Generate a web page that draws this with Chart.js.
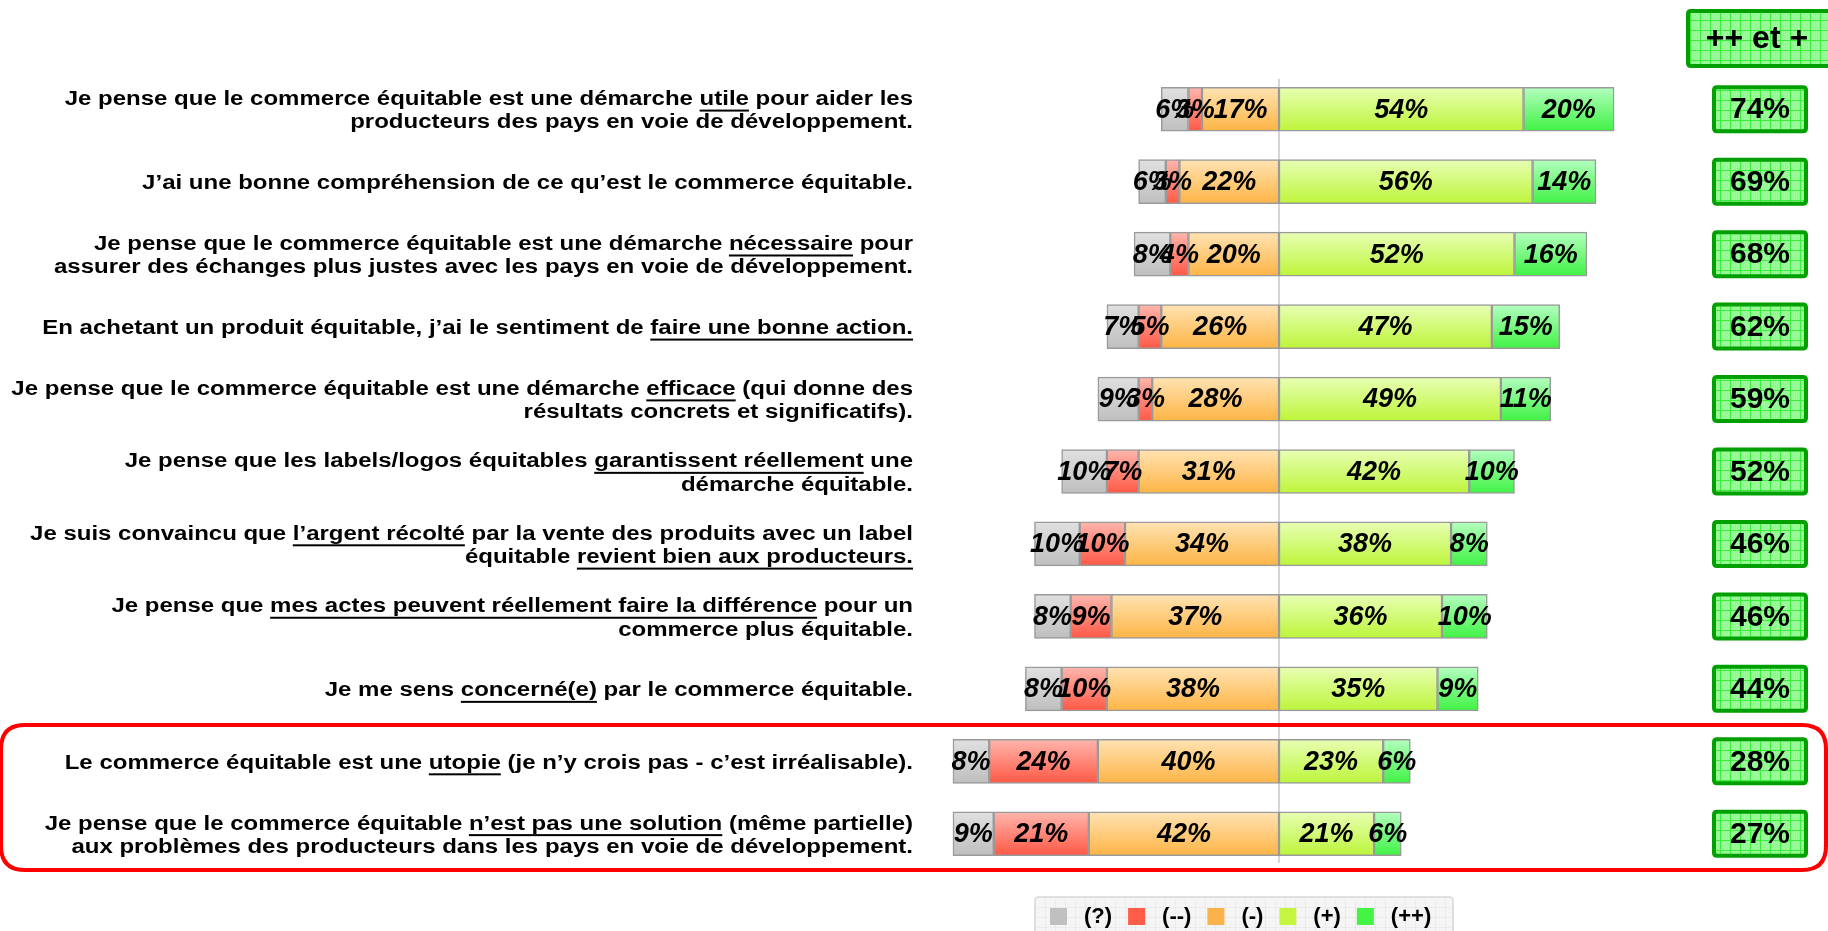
<!DOCTYPE html>
<html>
<head>
<meta charset="utf-8">
<script src="https://cdn.jsdelivr.net/npm/chart.js@4.4.0/dist/chart.umd.min.js"></script>
<style>
html,body{margin:0;padding:0;background:#fff;}
#wrap{width:1828px;height:931px;position:relative;overflow:hidden;}
canvas{display:block;}
</style>
</head>
<body>
<div id="wrap"><canvas id="c" width="1828" height="931"></canvas></div>
<script>
// ---------- DATA ----------
const categories = [
  ["Je pense que le commerce équitable est une démarche utile pour aider les", "producteurs des pays en voie de développement."],
  ["J’ai une bonne compréhension de ce qu’est le commerce équitable."],
  ["Je pense que le commerce équitable est une démarche nécessaire pour", "assurer des échanges plus justes avec les pays en voie de développement."],
  ["En achetant un produit équitable, j’ai le sentiment de faire une bonne action."],
  ["Je pense que le commerce équitable est une démarche efficace (qui donne des", "résultats concrets et significatifs)."],
  ["Je pense que les labels/logos équitables garantissent réellement une", "démarche équitable."],
  ["Je suis convaincu que l’argent récolté par la vente des produits avec un label", "équitable revient bien aux producteurs."],
  ["Je pense que mes actes peuvent réellement faire la différence pour un", "commerce plus équitable."],
  ["Je me sens concerné(e) par le commerce équitable."],
  ["Le commerce équitable est une utopie (je n’y crois pas - c’est irréalisable)."],
  ["Je pense que le commerce équitable n’est pas une solution (même partielle)", "aux problèmes des producteurs dans les pays en voie de développement."]
];
const underlinedPhrases = [
  ["utile"],
  [],
  ["nécessaire"],
  ["faire une bonne action."],
  ["efficace"],
  ["garantissent réellement"],
  ["l’argent récolté", "revient bien aux producteurs."],
  ["mes actes peuvent réellement faire la différence"],
  ["concerné(e)"],
  ["utopie"],
  ["n’est pas une solution"]
];
const seriesNames = ["(?)", "(--)", "(-)", "(+)", "(++)"];
const unknownVals = [6, 6, 8, 7, 9, 10, 10, 8, 8, 8, 9];
const veryNegVals = [3, 3, 4, 5, 3, 7, 10, 9, 10, 24, 21];
const negVals     = [17, 22, 20, 26, 28, 31, 34, 37, 38, 40, 42];
const posVals     = [54, 56, 52, 47, 49, 42, 38, 36, 35, 23, 21];
const veryPosVals = [20, 14, 16, 15, 11, 10, 8, 10, 9, 6, 6];
const plusTotals  = [74, 69, 68, 62, 59, 52, 46, 46, 44, 28, 27];
const totalsHeader = "++ et +";
const highlightedRows = [9, 10];

// ---------- STYLE ----------
const FONT = '"Liberation Sans", Arial, Helvetica, sans-serif';
const LABEL_STRETCH = 1.2;   // category labels are set in a wide face
const BAR_THICK = 44;
const colors = {
  "(?)":  {top: "#e0e0e0", bottom: "#bfbfbf", solid: "#c0c0c0"},
  "(--)": {top: "#ffb6ad", bottom: "#ff5845", solid: "#ff5c4a"},
  "(-)":  {top: "#ffe3b3", bottom: "#fdb445", solid: "#fbb24a"},
  "(+)":  {top: "#e8ffb4", bottom: "#bcf53a", solid: "#c6f540"},
  "(++)": {top: "#b4ffbf", bottom: "#40f244", solid: "#44f444"}
};
function grad(name) {
  const c = colors[name];
  return (ctx) => {
    const chart = ctx.chart;
    const ys = chart.scales && chart.scales.y;
    if (!ys || ctx.type !== 'data') return c.solid;
    const yc = ys.getPixelForValue(ctx.dataIndex);
    if (!isFinite(yc)) return c.solid;
    const g = chart.ctx.createLinearGradient(0, yc - BAR_THICK / 2, 0, yc + BAR_THICK / 2);
    g.addColorStop(0, c.top);
    g.addColorStop(1, c.bottom);
    return g;
  };
}
function mkDataset(name, vals, sign) {
  return {
    label: name,
    data: vals.map(v => sign * v),
    backgroundColor: grad(name),
    borderColor: "#9a9a9a",
    borderWidth: 1.5,
    borderSkipped: false,
    barThickness: BAR_THICK
  };
}

function greenPattern(ctx) {
  const p = document.createElement('canvas');
  p.width = 10; p.height = 10;
  const g = p.getContext('2d');
  g.fillStyle = '#8ffb8f';
  g.fillRect(0, 0, 10, 10);
  g.fillStyle = '#a6fda6';
  for (let i = 0; i < 10; i += 2) for (let j = (i / 2) % 2; j < 10; j += 2) g.fillRect(i, j, 1, 1);
  g.fillStyle = '#3cee3c';
  g.fillRect(0, 0, 10, 1);
  g.fillRect(0, 0, 1, 10);
  return ctx.createPattern(p, 'repeat');
}
function rrect(ctx, x, y, w, h, r) {
  ctx.beginPath();
  ctx.moveTo(x + r, y);
  ctx.lineTo(x + w - r, y); ctx.quadraticCurveTo(x + w, y, x + w, y + r);
  ctx.lineTo(x + w, y + h - r); ctx.quadraticCurveTo(x + w, y + h, x + w - r, y + h);
  ctx.lineTo(x + r, y + h); ctx.quadraticCurveTo(x, y + h, x, y + h - r);
  ctx.lineTo(x, y + r); ctx.quadraticCurveTo(x, y, x + r, y);
  ctx.closePath();
}
function labelRight(chart) {
  const ys = chart.scales.y;
  return ys.right - ys.options.ticks.padding;
}

// widen the category labels horizontally around their right edge (axis layer is drawn before datasets)
const stretchPlugin = {
  id: 'labelStretch',
  beforeDraw(chart) {
    const xr = labelRight(chart);
    chart.ctx.setTransform(LABEL_STRETCH, 0, 0, 1, xr * (1 - LABEL_STRETCH), 0);
  },
  beforeDatasetsDraw(chart) { chart.ctx.setTransform(1, 0, 0, 1, 0, 0); }
};

const zeroLinePlugin = {
  id: 'zeroLine',
  beforeDatasetsDraw(chart) {
    const {ctx, chartArea} = chart;
    const x = chart.scales.x.getPixelForValue(0);
    ctx.save();
    ctx.strokeStyle = '#c8c8c8';
    ctx.lineWidth = 1.5;
    ctx.beginPath();
    ctx.moveTo(x, chartArea.top + 6);
    ctx.lineTo(x, chartArea.bottom - 7);
    ctx.stroke();
    ctx.restore();
  }
};

const barLabelPlugin = {
  id: 'barLabels',
  afterDatasetsDraw(chart) {
    const ctx = chart.ctx;
    ctx.save();
    ctx.font = 'italic bold 27px ' + FONT;
    ctx.fillStyle = '#000';
    ctx.textAlign = 'center';
    ctx.textBaseline = 'middle';
    chart.data.datasets.forEach((ds, di) => {
      const meta = chart.getDatasetMeta(di);
      meta.data.forEach((bar, i) => {
        const v = ds.data[i];
        ctx.fillText(Math.abs(v) + '%', (bar.x + bar.base) / 2, bar.y + 1);
      });
    });
    ctx.restore();
  }
};

const underlinePlugin = {
  id: 'underlines',
  afterDraw(chart) {
    const ys = chart.scales.y;
    const ctx = chart.ctx;
    const t = ys.options.ticks;
    const size = t.font.size;
    const lh = size * t.font.lineHeight;
    const xr = labelRight(chart);
    const s = LABEL_STRETCH;
    ctx.save();
    ctx.font = 'bold ' + size + 'px ' + FONT;
    ctx.fillStyle = '#000';
    categories.forEach((lines, i) => {
      const yc = ys.getPixelForValue(i) + t.labelOffset;
      const n = lines.length;
      lines.forEach((line, j) => {
        const ly = yc + (1 - n) * lh / 2 + j * lh;
        const x0 = xr - s * ctx.measureText(line).width;
        (underlinedPhrases[i] || []).forEach(ph => {
          const k = line.indexOf(ph);
          if (k < 0) return;
          const pre = s * ctx.measureText(line.slice(0, k)).width;
          const w = s * ctx.measureText(ph).width;
          ctx.fillRect(x0 + pre, ly + size * 0.5, w, 2);
        });
      });
    });
    ctx.restore();
  }
};

const totalsPlugin = {
  id: 'totals',
  afterDraw(chart) {
    const ctx = chart.ctx;
    const ys = chart.scales.y;
    const cx = chart.chartArea.right + 121;
    const pat = greenPattern(ctx);
    ctx.save();
    rrect(ctx, cx - 72, 11, 160, 55, 3);
    ctx.fillStyle = pat; ctx.fill();
    ctx.lineWidth = 4; ctx.strokeStyle = '#00a000'; ctx.stroke();
    ctx.fillStyle = '#000';
    ctx.font = 'bold 32px ' + FONT;
    ctx.textAlign = 'center'; ctx.textBaseline = 'middle';
    ctx.fillText(totalsHeader, cx - 3, 39);
    plusTotals.forEach((v, i) => {
      const y = ys.getPixelForValue(i);
      rrect(ctx, cx - 46, y - 22, 92, 44, 3);
      ctx.fillStyle = pat; ctx.fill();
      ctx.lineWidth = 4; ctx.strokeStyle = '#00a000'; ctx.stroke();
      ctx.fillStyle = '#000';
      ctx.font = 'bold 30px ' + FONT;
      ctx.fillText(v + '%', cx, y + 1);
    });
    ctx.restore();
  }
};

const highlightPlugin = {
  id: 'highlight',
  afterDraw(chart) {
    const ctx = chart.ctx;
    const ys = chart.scales.y;
    const pitch = ys.getPixelForValue(1) - ys.getPixelForValue(0);
    const top = ys.getPixelForValue(highlightedRows[0]) - pitch / 2;
    const bottom = ys.getPixelForValue(highlightedRows[highlightedRows.length - 1]) + pitch / 2;
    ctx.save();
    ctx.strokeStyle = '#ff0000';
    ctx.lineWidth = 4;
    rrect(ctx, 1, top, chart.width - 3, bottom - top, 24);
    ctx.stroke();
    ctx.restore();
  }
};

const legendPlugin = {
  id: 'customLegend',
  afterDraw(chart) {
    const ctx = chart.ctx;
    const left = chart.chartArea.left + 116;
    const top = 897;
    ctx.save();
    rrect(ctx, left, top, 418, 44, 4);
    ctx.fillStyle = '#f5f5f5'; ctx.fill();
    ctx.strokeStyle = '#d6d6d6'; ctx.lineWidth = 1.5; ctx.stroke();
    ctx.strokeStyle = 'rgba(0,0,0,0.035)'; ctx.lineWidth = 1;
    for (let gx = left + 10; gx < left + 418; gx += 10) { ctx.beginPath(); ctx.moveTo(gx + 0.5, top + 2); ctx.lineTo(gx + 0.5, top + 44); ctx.stroke(); }
    for (let gy = top + 10; gy < 931; gy += 10) { ctx.beginPath(); ctx.moveTo(left + 2, gy + 0.5); ctx.lineTo(left + 416, gy + 0.5); ctx.stroke(); }
    ctx.font = 'bold 22px ' + FONT;
    ctx.textBaseline = 'middle';
    ctx.textAlign = 'left';
    let x = left + 15;
    const cy = top + 19;
    seriesNames.forEach(name => {
      ctx.fillStyle = colors[name].solid;
      ctx.fillRect(x, cy - 8, 17, 17);
      ctx.fillStyle = '#000';
      ctx.fillText(name, x + 34, cy + 1);
      x += 34 + ctx.measureText(name).width + 16;
    });
    ctx.restore();
  }
};

new Chart(document.getElementById('c'), {
  type: 'bar',
  data: {
    labels: categories,
    datasets: [
      mkDataset("(-)", negVals, -1),
      mkDataset("(--)", veryNegVals, -1),
      mkDataset("(?)", unknownVals, -1),
      mkDataset("(+)", posVals, 1),
      mkDataset("(++)", veryPosVals, 1)
    ]
  },
  options: {
    indexAxis: 'y',
    responsive: false,
    devicePixelRatio: 1,
    animation: false,
    layout: {padding: {top: 73, bottom: 61, left: 0, right: 189}},
    scales: {
      x: {stacked: true, min: -79.5, max: 79.5, display: false},
      y: {
        stacked: true,
        grid: {display: false, drawTicks: false},
        border: {display: false},
        ticks: {
          padding: 6, labelOffset: 2, color: '#000', autoSkip: false,
          font: {family: FONT, size: 20, weight: 'bold', lineHeight: 1.165}
        },
        afterFit(scale) { scale.width = 919; }
      }
    },
    plugins: {legend: {display: false}, tooltip: {enabled: false}}
  },
  plugins: [stretchPlugin, zeroLinePlugin, barLabelPlugin, underlinePlugin, totalsPlugin, highlightPlugin, legendPlugin]
});
</script>
</body>
</html>
